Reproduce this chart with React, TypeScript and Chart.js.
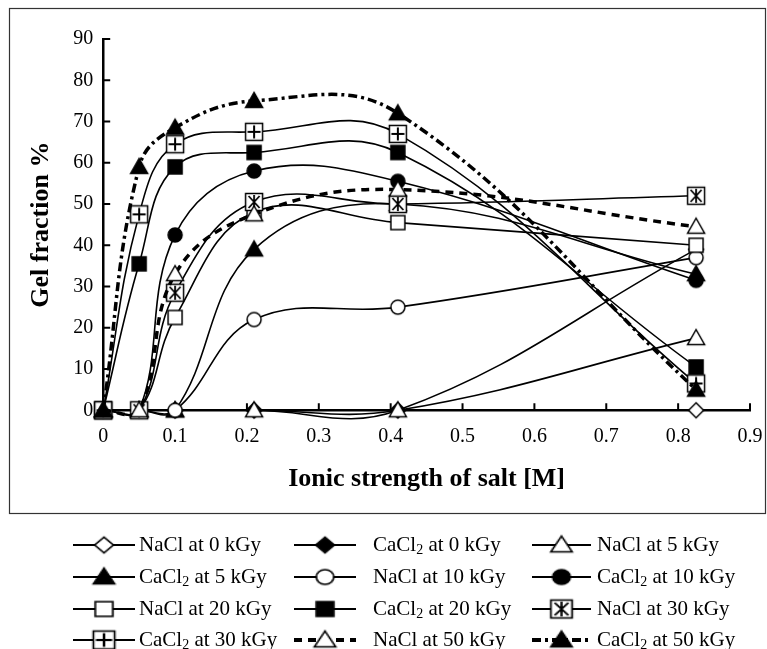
import React, { useEffect, useRef } from 'react';
import { Chart, registerables } from 'chart.js';

Chart.register(...registerables);

// ---------- data ----------
const ionicStrength = [0, 0.05, 0.1, 0.21, 0.41, 0.825];

const naCl0 = [0, 0, 0, 0, 0, 0];
const caCl0 = [0, 0, 0, 0, 0, 39];
const naCl5 = [0, 0, 0, 0, 0, 17.5];
const caCl5 = [0, 0, 0, 39, 50, 33];
const naCl10 = [0, 0, 0, 22, 25, 37];
const caCl10 = [0, 0, 42.5, 58, 55.5, 31.5];
const naCl20 = [0, 0, 22.5, 48, 45.5, 40];
const caCl20 = [0, 35.5, 59, 62.5, 62.5, 10.5];
const naCl30 = [0, 0, 28.5, 50.5, 50, 52];
const caCl30 = [0, 47.5, 64.5, 67.5, 67, 6.5];
const naCl50 = [0, 0, 33, 47.5, 53.5, 44.5];
const caCl50 = [0, 59, 68.5, 75, 72, 5];

const salts = ['NaCl', 'CaCl2', 'NaCl', 'CaCl2', 'NaCl', 'CaCl2', 'NaCl', 'CaCl2', 'NaCl', 'CaCl2', 'NaCl', 'CaCl2'];
const doses = ['0', '0', '5', '5', '10', '10', '20', '20', '30', '30', '50', '50'];

const xTickValues = [0, 0.1, 0.2, 0.3, 0.4, 0.5, 0.6, 0.7, 0.8, 0.9];
const yTickValues = [0, 10, 20, 30, 40, 50, 60, 70, 80, 90];

const xTitle = 'Ionic strength of salt [M]';
const yTitle = 'Gel fraction %';

// ---------- styling ----------
const FONT = '"Liberation Serif", "Times New Roman", serif';

type MarkerKind =
  | 'diamondOpen' | 'diamondFilled' | 'triOpen' | 'triFilled'
  | 'circleOpen' | 'circleFilled' | 'squareOpen' | 'squareFilled'
  | 'squareX' | 'squarePlus';

const markerKinds: MarkerKind[] = [
  'diamondOpen', 'diamondFilled', 'triOpen', 'triFilled',
  'circleOpen', 'circleFilled', 'squareOpen', 'squareFilled',
  'squareX', 'squarePlus', 'triOpen', 'triFilled',
];

const lineStyles = [
  { dash: [] as number[], width: 1.6 },
  { dash: [], width: 1.6 },
  { dash: [], width: 1.6 },
  { dash: [], width: 1.6 },
  { dash: [], width: 1.6 },
  { dash: [], width: 1.6 },
  { dash: [], width: 1.6 },
  { dash: [], width: 1.6 },
  { dash: [], width: 1.6 },
  { dash: [], width: 1.6 },
  { dash: [8, 6], width: 3.5 },
  { dash: [9, 4, 3, 4], width: 3.5 },
];

function makeMarker(kind: MarkerKind): HTMLCanvasElement {
  const size = 22;
  const c = document.createElement('canvas');
  c.width = size;
  c.height = size;
  const ctx = c.getContext('2d')!;
  const m = size / 2;
  const filled = kind.endsWith('Filled');
  ctx.lineWidth = 1.5;
  ctx.strokeStyle = '#000';
  ctx.fillStyle = filled ? '#000' : '#fff';
  ctx.beginPath();
  if (kind.startsWith('diamond')) {
    const r = 7.5;
    ctx.moveTo(m, m - r);
    ctx.lineTo(m + r, m);
    ctx.lineTo(m, m + r);
    ctx.lineTo(m - r, m);
    ctx.closePath();
  } else if (kind.startsWith('tri')) {
    ctx.moveTo(m, m - 8.5);
    ctx.lineTo(m + 8.5, m + 6.5);
    ctx.lineTo(m - 8.5, m + 6.5);
    ctx.closePath();
  } else if (kind.startsWith('circle')) {
    ctx.arc(m, m, 7, 0, Math.PI * 2);
  } else if (kind === 'squareOpen' || kind === 'squareFilled') {
    ctx.rect(m - 7, m - 7, 14, 14);
  } else {
    ctx.rect(m - 8.5, m - 8.5, 17, 17);
  }
  ctx.fill();
  ctx.stroke();
  if (kind === 'squareX') {
    ctx.lineWidth = 1.8;
    ctx.beginPath();
    ctx.moveTo(m - 5.5, m - 6);
    ctx.lineTo(m + 5.5, m + 6);
    ctx.moveTo(m + 5.5, m - 6);
    ctx.lineTo(m - 5.5, m + 6);
    ctx.moveTo(m, m - 7);
    ctx.lineTo(m, m + 7);
    ctx.stroke();
  } else if (kind === 'squarePlus') {
    ctx.lineWidth = 2;
    ctx.beginPath();
    ctx.moveTo(m - 6.5, m);
    ctx.lineTo(m + 6.5, m);
    ctx.moveTo(m, m - 6.5);
    ctx.lineTo(m, m + 6.5);
    ctx.stroke();
  }
  return c;
}

const legendRows = [545, 577, 609, 640];
const legendLineStart = [73, 294, 532];
const legendLineEnd = [135, 356, 591];
const legendTextX = [139, 373, 597];

const decorPlugin = {
  id: 'decor',
  beforeDatasetsDraw(chart: any) {
    const ctx = chart.ctx;
    const { left, bottom } = chart.chartArea;
    const xs = chart.scales.x;
    const ys = chart.scales.y;
    ctx.save();
    ctx.strokeStyle = '#000';
    ctx.lineWidth = 2;
    ctx.beginPath();
    for (const v of yTickValues) {
      const y = ys.getPixelForValue(v);
      ctx.moveTo(left, y);
      ctx.lineTo(left + 7, y);
    }
    for (const v of xTickValues) {
      const x = xs.getPixelForValue(v);
      ctx.moveTo(x, bottom);
      ctx.lineTo(x, bottom - 7);
    }
    ctx.stroke();
    ctx.restore();
  },
  afterDraw(chart: any) {
    const ctx = chart.ctx;
    ctx.save();
    // frame
    ctx.strokeStyle = '#333';
    ctx.lineWidth = 1.2;
    ctx.strokeRect(9.5, 8.5, 756, 505);
    // legend
    chart.data.datasets.forEach((ds: any, i: number) => {
      const col = i % 3;
      const row = Math.floor(i / 3);
      const y = legendRows[row];
      const x0 = legendLineStart[col];
      const x1 = legendLineEnd[col];
      ctx.beginPath();
      ctx.strokeStyle = '#000';
      ctx.lineWidth = ds.borderDash.length ? 4 : 2;
      ctx.setLineDash(ds.borderDash);
      ctx.moveTo(x0, y);
      ctx.lineTo(x1, y);
      ctx.stroke();
      ctx.setLineDash([]);
      const mk = ds.pointStyle as HTMLCanvasElement;
      const mx = (x0 + x1) / 2;
      const w = mk.width * 1.25;
      const h = mk.height * 1.05;
      ctx.drawImage(mk, mx - w / 2, y - h / 2, w, h);
      // text
      ctx.fillStyle = '#000';
      ctx.textBaseline = 'middle';
      ctx.textAlign = 'left';
      let tx = legendTextX[col];
      const salt = salts[i];
      ctx.font = `21px ${FONT}`;
      if (salt === 'CaCl2') {
        ctx.fillText('CaCl', tx, y);
        tx += ctx.measureText('CaCl').width;
        ctx.font = `14px ${FONT}`;
        ctx.fillText('2', tx, y + 5);
        tx += ctx.measureText('2').width;
        ctx.font = `21px ${FONT}`;
      } else {
        ctx.fillText('NaCl', tx, y);
        tx += ctx.measureText('NaCl').width;
      }
      ctx.fillText(` at ${doses[i]} kGy`, tx, y);
    });
    ctx.restore();
  },
};

const seriesValues = [naCl0, caCl0, naCl5, caCl5, naCl10, caCl10, naCl20, caCl20, naCl30, caCl30, naCl50, caCl50];

export default function App() {
  const canvasRef = useRef<HTMLCanvasElement | null>(null);

  useEffect(() => {
    if (!canvasRef.current) return;
    const datasets = seriesValues.map((vals, i) => {
      const mk = makeMarker(markerKinds[i]);
      return {
        label: `${salts[i]} at ${doses[i]} kGy`,
        data: ionicStrength.map((x, j) => ({ x, y: vals[j] })),
        borderColor: '#000',
        backgroundColor: '#000',
        borderWidth: lineStyles[i].width,
        borderDash: lineStyles[i].dash,
        pointStyle: mk,
        pointRadius: 8,
        tension: 0.4,
        capBezierPoints: false,
        clip: false,
        order: seriesValues.length - i,
      };
    });

    const chart = new Chart(canvasRef.current, {
      type: 'line',
      data: { datasets } as any,
      options: {
        responsive: true,
        maintainAspectRatio: false,
        animation: false,
        layout: { padding: { left: 10, right: 9, top: 39, bottom: 146 } },
        plugins: {
          legend: { display: false },
          tooltip: { enabled: false },
        },
        scales: {
          x: {
            type: 'linear',
            min: 0,
            max: 0.9,
            afterBuildTicks: (s: any) => {
              s.ticks = xTickValues.map((v) => ({ value: v }));
            },
            ticks: {
              callback: (v: any) => String(Math.round(Number(v) * 10) / 10),
              font: { family: FONT, size: 20 },
              color: '#000',
              padding: 4.5,
              maxRotation: 0,
              autoSkip: false,
            },
            grid: {
              display: true,
              drawOnChartArea: false,
              drawTicks: true,
              tickLength: 9.5,
              tickColor: 'rgba(0,0,0,0)',
            },
            border: { display: true, color: '#000', width: 2.5 },
            title: {
              display: true,
              text: xTitle,
              font: { family: FONT, size: 26, weight: 'bold' },
              color: '#000',
              padding: { top: 11, bottom: 8 },
            },
          },
          y: {
            type: 'linear',
            min: 0,
            max: 90,
            afterBuildTicks: (s: any) => {
              s.ticks = yTickValues.map((v) => ({ value: v }));
            },
            ticks: {
              callback: (v: any) => String(v),
              font: { family: FONT, size: 20 },
              color: '#000',
              padding: 10,
              autoSkip: false,
            },
            grid: { display: false, drawTicks: false },
            border: { display: true, color: '#000', width: 2.5 },
            title: {
              display: true,
              text: yTitle,
              font: { family: FONT, size: 26, weight: 'bold' },
              color: '#000',
              padding: { top: 16, bottom: 6 },
            },
          },
        },
      } as any,
      plugins: [decorPlugin],
    });
    return () => chart.destroy();
  }, []);

  return (
    <div style={{ position: 'fixed', left: 0, top: 0, width: 767, height: 649, background: '#fff' }}>
      <canvas ref={canvasRef} />
    </div>
  );
}
